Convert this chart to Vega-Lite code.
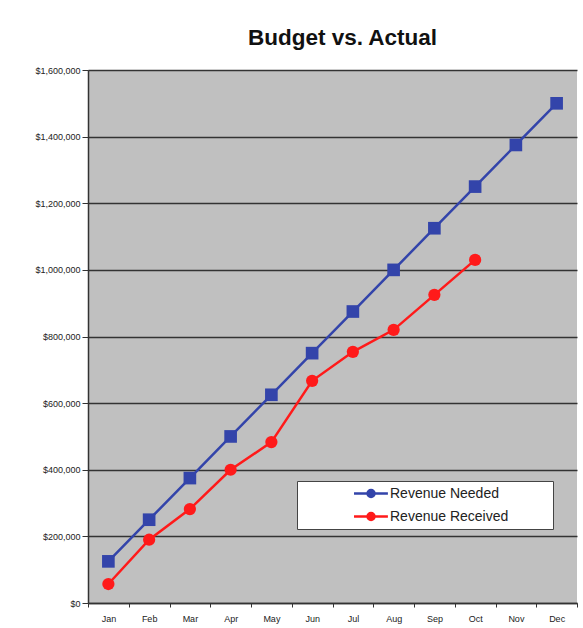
{
  "$schema": "https://vega.github.io/schema/vega-lite/v6.json",
  "width": 489,
  "height": 533,
  "autosize": {"type": "none"},
  "padding": {"left": 88, "top": 70, "right": 6, "bottom": 25},
  "background": "white",
  "title": {
    "text": "Budget vs. Actual",
    "font": "Liberation Sans",
    "fontSize": 22.5,
    "fontWeight": "bold",
    "color": "#111",
    "anchor": "middle",
    "dx": 10,
    "offset": 17
  },
  "config": {
    "view": {"fill": "#c0c0c0", "stroke": null},
    "axis": {"labelFont": "Liberation Sans", "labelColor": "#222", "domainColor": "#333", "tickColor": "#333"}
  },
  "data": {
    "values": [
      {"month": "Jan", "series": "Revenue Needed", "value": 125000},
      {"month": "Feb", "series": "Revenue Needed", "value": 250000},
      {"month": "Mar", "series": "Revenue Needed", "value": 375000},
      {"month": "Apr", "series": "Revenue Needed", "value": 500000},
      {"month": "May", "series": "Revenue Needed", "value": 625000},
      {"month": "Jun", "series": "Revenue Needed", "value": 750000},
      {"month": "Jul", "series": "Revenue Needed", "value": 875000},
      {"month": "Aug", "series": "Revenue Needed", "value": 1000000},
      {"month": "Sep", "series": "Revenue Needed", "value": 1125000},
      {"month": "Oct", "series": "Revenue Needed", "value": 1250000},
      {"month": "Nov", "series": "Revenue Needed", "value": 1375000},
      {"month": "Dec", "series": "Revenue Needed", "value": 1500000},
      {"month": "Jan", "series": "Revenue Received", "value": 57000},
      {"month": "Feb", "series": "Revenue Received", "value": 190000},
      {"month": "Mar", "series": "Revenue Received", "value": 282000},
      {"month": "Apr", "series": "Revenue Received", "value": 400000},
      {"month": "May", "series": "Revenue Received", "value": 483000},
      {"month": "Jun", "series": "Revenue Received", "value": 667000},
      {"month": "Jul", "series": "Revenue Received", "value": 754000},
      {"month": "Aug", "series": "Revenue Received", "value": 820000},
      {"month": "Sep", "series": "Revenue Received", "value": 925000},
      {"month": "Oct", "series": "Revenue Received", "value": 1030000}
    ]
  },
  "encoding": {
    "x": {
      "field": "month",
      "type": "ordinal",
      "sort": ["Jan","Feb","Mar","Apr","May","Jun","Jul","Aug","Sep","Oct","Nov","Dec"],
      "scale": {"type": "band", "paddingInner": 0, "paddingOuter": 0},
      "axis": {"title": null, "labelAngle": 0, "labelFontSize": 9, "tickBand": "extent", "tickSize": 4, "labelPadding": 7, "grid": false, "domainWidth": 1.5}
    },
    "y": {
      "field": "value",
      "type": "quantitative",
      "scale": {"domain": [0, 1600000], "nice": false},
      "axis": {"title": null, "values": [0,200000,400000,600000,800000,1000000,1200000,1400000,1600000], "format": "$,.0f", "labelFontSize": 9, "tickSize": 6, "labelPadding": 2, "grid": true, "gridColor": "#333", "gridWidth": 1.5, "gridOpacity": 1, "domainWidth": 1.5}
    },
    "color": {
      "field": "series",
      "type": "nominal",
      "scale": {"domain": ["Revenue Needed", "Revenue Received"], "range": ["#3344aa", "#ff1a1a"]},
      "legend": {
        "title": null,
        "orient": "none",
        "legendX": 209,
        "legendY": 411,
        "fillColor": "white",
        "strokeColor": "#444",
        "padding": 4,
        "labelFont": "Liberation Sans",
        "labelFontSize": 14,
        "labelColor": "#222",
        "labelOffset": 72,
        "symbolType": "M-1.2,0M6.36,0H11.2M8.29,0A0.5,0.5 0 1,0 9.29,0A0.5,0.5 0 1,0 8.29,0M33.5,0",
        "symbolSize": 196,
        "symbolStrokeWidth": 2.5,
        "rowPadding": 4
      }
    }
  },
  "layer": [
    {"mark": {"type": "line", "strokeWidth": 2.5}},
    {
      "transform": [{"filter": "datum.series === 'Revenue Needed'"}],
      "mark": {"type": "point", "filled": true, "opacity": 1, "shape": "square", "size": 160}
    },
    {
      "transform": [{"filter": "datum.series === 'Revenue Received'"}],
      "mark": {"type": "point", "filled": true, "opacity": 1, "shape": "circle", "size": 150}
    }
  ]
}
